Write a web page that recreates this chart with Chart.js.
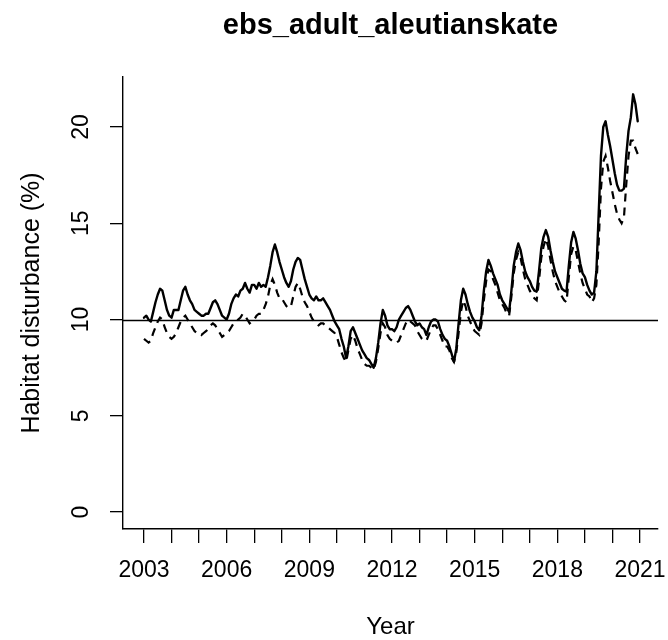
<!DOCTYPE html>
<html><head><meta charset="utf-8">
<script src="https://cdn.jsdelivr.net/npm/chart.js@4.4.1/dist/chart.umd.min.js"></script>
<style>html,body{margin:0;padding:0;background:#fff;}#wrap{width:668px;height:640px;}</style>
</head><body><div id="wrap"><canvas id="c" width="668" height="640"></canvas></div>
<script>
// ---- data ----
const chartTitle = "ebs_adult_aleutianskate";
const xTitle = "Year";
const yTitle = "Habitat disturbance (%)";
const startYear = 2003;            // first month = Jan 2003, monthly steps
const yearTicks = [2003,2004,2005,2006,2007,2008,2009,2010,2011,2012,2013,2014,2015,2016,2017,2018,2019,2020,2021];
const labeledYears = [2003,2006,2009,2012,2015,2018,2021];
const yTicks = [0,5,10,15,20];
const referenceLevel = 10;

// solid line, monthly Jan 2003 .. Dec 2020
const solidValues = [
  10.1,10.2,10.0,9.9,10.4,10.9,11.3,11.6,11.5,11.0,10.5,10.2,
  10.1,10.5,10.5,10.5,11.0,11.5,11.7,11.3,11.0,10.8,10.5,10.4,
  10.3,10.2,10.2,10.3,10.3,10.6,10.9,11.0,10.8,10.5,10.2,10.1,
  10.0,10.3,10.8,11.1,11.3,11.2,11.5,11.6,11.9,11.6,11.4,11.8,
  11.8,11.6,11.9,11.7,11.8,11.7,12.2,12.8,13.5,13.9,13.5,13.0,
  12.6,12.2,11.9,11.7,12.0,12.6,13.0,13.2,13.1,12.6,12.1,11.7,
  11.3,11.1,11.0,11.2,11.0,11.0,11.1,10.9,10.7,10.5,10.2,9.9,
  9.7,9.5,9.0,8.6,8.0,8.6,9.4,9.6,9.3,9.0,8.7,8.4,
  8.2,8.0,7.9,7.7,7.5,8.0,8.8,9.8,10.5,10.2,9.7,9.5,
  9.5,9.4,9.6,10.0,10.2,10.4,10.6,10.7,10.5,10.2,9.9,9.7,
  9.8,9.6,9.5,9.2,9.6,9.9,10.0,10.0,9.9,9.5,9.2,9.0,
  8.9,8.6,8.2,7.8,8.5,9.8,11.0,11.6,11.3,10.8,10.4,10.1,
  9.9,9.6,9.45,10.2,11.5,12.5,13.1,12.8,12.4,12.1,11.8,11.3,
  11.0,10.8,10.6,10.4,11.5,12.8,13.5,13.95,13.6,13.0,12.5,12.2,
  12.0,11.7,11.5,11.45,12.5,13.7,14.3,14.65,14.3,13.6,13.0,12.5,
  12.2,11.9,11.6,11.5,11.45,12.8,14.0,14.55,14.2,13.6,12.9,12.4,
  12.2,11.8,11.5,11.3,11.4,12.5,15.5,18.5,20.0,20.3,19.6,19.0,
  18.3,17.6,17.0,16.7,16.7,16.8,18.5,19.8,20.5,21.7,21.2,20.3
];
// dashed line, monthly Jan 2003 .. Dec 2020
const dashedValues = [
  9.0,8.9,8.8,8.9,9.3,9.6,9.9,10.1,10.0,9.6,9.3,9.1,
  9.0,9.1,9.3,9.6,9.9,10.1,10.2,10.0,9.8,9.6,9.4,9.3,
  9.3,9.2,9.3,9.4,9.5,9.7,9.8,9.7,9.5,9.3,9.1,9.2,
  9.3,9.4,9.6,9.8,9.9,10.0,10.1,10.3,10.2,10.0,9.8,9.9,
  10.0,10.2,10.3,10.3,10.5,10.8,11.2,11.8,12.1,11.8,11.4,11.1,
  11.1,10.9,10.7,10.6,10.7,11.2,11.7,11.9,11.6,11.2,10.9,10.7,
  10.4,10.1,9.9,9.8,9.7,9.8,9.8,9.7,9.6,9.5,9.4,9.3,
  9.1,8.7,8.3,8.0,7.8,8.4,9.0,9.2,8.9,8.5,8.2,7.9,
  7.7,7.6,7.6,7.5,7.4,7.8,8.5,9.3,9.8,9.6,9.2,9.0,
  8.9,8.8,8.8,8.9,9.2,9.5,9.8,10.0,9.9,9.8,9.7,9.4,
  9.2,9.0,8.9,8.9,9.2,9.5,9.7,9.7,9.5,9.2,8.9,8.6,
  8.6,8.4,8.0,7.8,8.3,9.3,10.4,11.0,10.7,10.2,9.9,9.6,
  9.4,9.3,9.2,9.8,11.0,12.0,12.6,12.5,12.1,11.8,11.4,11.0,
  10.8,10.6,10.3,10.2,11.2,12.4,13.1,13.5,13.2,12.6,12.1,11.8,
  11.5,11.3,11.1,11.0,12.0,13.2,13.8,14.2,13.8,13.1,12.5,12.0,
  11.7,11.4,11.2,11.0,10.9,12.2,13.4,13.8,13.6,13.0,12.4,11.9,
  11.6,11.3,11.2,10.9,11.1,11.8,14.0,16.8,18.2,18.5,17.9,17.2,
  16.6,16.0,15.5,15.2,15.0,15.3,17.0,18.5,19.3,19.3,18.9,18.6
];

// monthly time stamps (decimal years)
const months = solidValues.map((_, i) => startYear + i / 12);
const toPoints = vals => vals.map((v, i) => ({x: months[i], y: v}));

const FONT = "'Liberation Sans', Arial, sans-serif";

const overlay = {
  id: 'overlay',
  afterDatasetsDraw(chart) {
    const {ctx, chartArea: a, scales: {y}} = chart;
    ctx.save();
    const yr = Math.round(y.getPixelForValue(referenceLevel)) + 0.5;
    ctx.strokeStyle = '#000'; ctx.lineWidth = 1.5;
    ctx.beginPath(); ctx.moveTo(a.left, yr); ctx.lineTo(a.right, yr); ctx.stroke();
    ctx.restore();
  },
  afterDraw(chart) {
    const {ctx, chartArea: a, scales: {y}} = chart;
    ctx.save();
    ctx.fillStyle = '#000';
    ctx.font = "23px " + FONT;
    ctx.textAlign = 'center'; ctx.textBaseline = 'middle';
    yTicks.forEach(v => {
      ctx.save();
      ctx.translate(82, y.getPixelForValue(v));
      ctx.rotate(-Math.PI / 2);
      ctx.fillText(String(v), 0, 0);
      ctx.restore();
    });
    ctx.font = "25px " + FONT;
    ctx.save();
    ctx.translate(32, (a.top + a.bottom) / 2);
    ctx.rotate(-Math.PI / 2);
    ctx.fillText(yTitle, 0, 0);
    ctx.restore();
    ctx.font = "24px " + FONT;
    ctx.fillText(xTitle, (a.left + a.right) / 2, 627);
    ctx.font = "bold 29px " + FONT;
    ctx.textBaseline = 'alphabetic';
    ctx.fillText(chartTitle, (a.left + a.right) / 2, 34);
    ctx.restore();
  }
};

new Chart(document.getElementById('c'), {
  type: 'line',
  data: {
    datasets: [
      {data: toPoints(solidValues), borderColor: '#000', borderWidth: 2.4, pointRadius: 0,
       tension: 0, borderJoinStyle: 'round', borderCapStyle: 'round', order: 2},
      {data: toPoints(dashedValues), borderColor: '#000', borderWidth: 2.2, pointRadius: 0,
       tension: 0, borderDash: [8, 6], order: 1}
    ]
  },
  options: {
    responsive: false, animation: false, devicePixelRatio: 1,
    layout: {padding: {top: 77, right: 10, left: 0, bottom: 0}},
    plugins: {legend: {display: false}, title: {display: false}, tooltip: {enabled: false}},
    scales: {
      x: {
        type: 'linear', min: 2002.238, max: 2021.653,
        afterBuildTicks: s => { s.ticks = yearTicks.map(v => ({value: v})); },
        afterFit: s => { s.height = 111; s.paddingLeft = 0; s.paddingRight = 0; },
        grid: {display: true, drawOnChartArea: false, drawTicks: true, tickLength: 14, color: '#000', lineWidth: 1.3},
        border: {display: true, color: '#000', width: 1.4},
        ticks: {
          autoSkip: false, maxRotation: 0, minRotation: 0, padding: 14, color: '#000',
          font: {family: FONT, size: 23},
          callback: v => labeledYears.includes(v) ? String(v) : ''
        }
      },
      y: {
        type: 'linear', min: -0.88, max: 22.6,
        afterBuildTicks: s => { s.ticks = yTicks.map(v => ({value: v})); },
        afterFit: s => { s.width = 123; s.paddingTop = 0; s.paddingBottom = 0; },
        grid: {display: true, drawOnChartArea: false, drawTicks: true, tickLength: 13, color: '#000', lineWidth: 1.3},
        border: {display: true, color: '#000', width: 1.4},
        ticks: {display: false}
      }
    }
  },
  plugins: [overlay]
});
</script>
</body></html>
